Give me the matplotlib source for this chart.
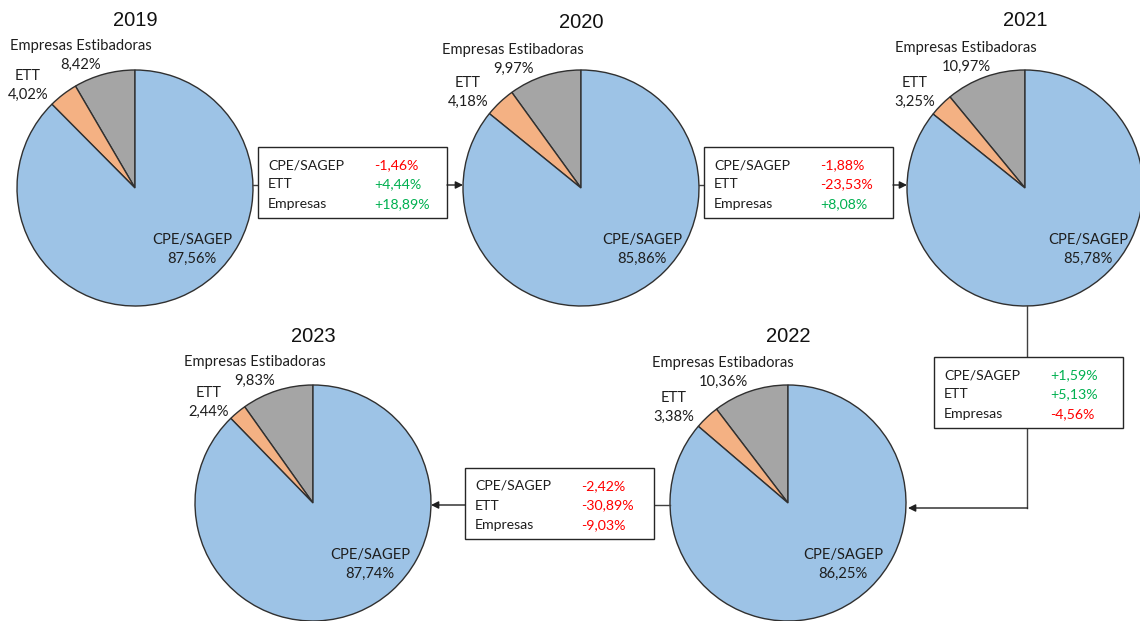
import matplotlib
matplotlib.use("Agg")
import matplotlib.pyplot as plt
from matplotlib.patches import Rectangle

# share of workers per employer type, by year (%)
years = ["2019", "2020", "2021", "2022", "2023"]
cpe_sagep = [87.56, 85.86, 85.78, 86.25, 87.74]
ett = [4.02, 4.18, 3.25, 3.38, 2.44]
empresas = [8.42, 9.97, 10.97, 10.36, 9.83]

# year-on-year variation between consecutive years (%)
steps = ["2019-2020", "2020-2021", "2021-2022", "2022-2023"]
var_cpe = [-1.46, -1.88, 1.59, -2.42]
var_ett = [4.44, -23.53, 5.13, -30.89]
var_emp = [18.89, 8.08, -4.56, -9.03]

row_names = ["CPE/SAGEP", "ETT", "Empresas"]
colors = ["#A5A5A5", "#F4B183", "#9DC3E6"]   # empresas, ett, cpe
TXT = "#1E1E1E"
RED = "#FF0000"
GREEN = "#00B050"
LINE = "#404040"
FONT = ["Lato", "DejaVu Sans"]
FS = 10.6

W, H = 1140, 621
R = 118

# pie centres and label positions (pixels, y downwards)
centres = [(135, 188), (581, 188), (1025, 188), (788, 503), (313, 503)]
emp_lab = [(81, 46), (513, 50), (966, 48), (723, 363), (255, 362)]
ett_lab = [(28, 76), (468, 83), (915, 83), (674, 398), (209, 393)]
cpe_lab = [(192, 240), (642, 240), (1088, 240), (843, 555), (370, 555)]
title_y = [20, 22, 20, 337, 336]

# change boxes: left, top, width, height
boxes = [(258, 147, 189, 71), (704, 147, 189, 71),
         (934, 357, 189, 71), (465, 468, 189, 71)]


def pct(v):
    return f"{v:.2f}%".replace(".", ",")


def signed(v):
    s = f"{v:+.2f}%".replace(".", ",")
    return s


def label(x, y, top, bottom):
    ax.text(x, y, top, ha="center", va="center", fontsize=FS,
            family=FONT, color=TXT)
    ax.text(x, y + 19, bottom, ha="center", va="center", fontsize=FS,
            family=FONT, color=TXT)


fig = plt.figure(figsize=(W / 100, H / 100), dpi=100)
ax = fig.add_axes([0, 0, 1, 1])

for i, yr in enumerate(years):
    cx, cy = centres[i]
    # y axis is inverted later, so clockwise + start at -90 reads
    # as counter-clockwise from 12 o'clock on screen
    ax.pie([empresas[i], ett[i], cpe_sagep[i]], colors=colors,
           center=(cx, cy), radius=R, startangle=-90, counterclock=False,
           wedgeprops=dict(edgecolor="#303030", linewidth=1.0))
    ax.text(cx, title_y[i], yr, ha="center", va="center", fontsize=14.5,
            family=["Liberation Sans", "DejaVu Sans"], color="#111111")
    label(*emp_lab[i], "Empresas Estibadoras", pct(empresas[i]))
    label(*ett_lab[i], "ETT", pct(ett[i]))
    label(*cpe_lab[i], "CPE/SAGEP", pct(cpe_sagep[i]))

for j, step in enumerate(steps):
    bx, by, bw, bh = boxes[j]
    ax.add_patch(Rectangle((bx, by), bw, bh, facecolor="white",
                           edgecolor="#262626", linewidth=1.0, zorder=3))
    vals = [var_cpe[j], var_ett[j], var_emp[j]]
    for k, name in enumerate(row_names):
        yy = by + 18 + 19.5 * k
        ax.text(bx + 10, yy, name, ha="left", va="center", fontsize=10.2,
                family=FONT, color=TXT, zorder=4)
        ax.text(bx + 116, yy, signed(vals[k]), ha="left", va="center",
                fontsize=10.2, family=FONT, zorder=4,
                color=GREEN if vals[k] > 0 else RED)

arrow = dict(arrowstyle="-|>", color="#202020", lw=1.0,
             shrinkA=0, shrinkB=0, mutation_scale=11)

# 2019 -> box -> 2020
ax.plot([centres[0][0] + R, 258], [185, 185], color=LINE, lw=1.0)
ax.annotate("", xy=(centres[1][0] - R, 185), xytext=(447, 185),
            arrowprops=arrow)
# 2020 -> box -> 2021
ax.plot([centres[1][0] + R, 704], [185, 185], color=LINE, lw=1.0)
ax.annotate("", xy=(centres[2][0] - R, 185), xytext=(893, 185),
            arrowprops=arrow)
# 2021 -> box -> 2022
ax.plot([1027, 1027], [centres[2][1] + R, 357], color=LINE, lw=1.0)
ax.plot([1027, 1027], [428, 508], color=LINE, lw=1.0)
ax.annotate("", xy=(centres[3][0] + R + 2, 508), xytext=(1027.5, 508),
            arrowprops=arrow)
# 2022 -> box -> 2023
ax.plot([centres[3][0] - R, 654], [505, 505], color=LINE, lw=1.0)
ax.annotate("", xy=(centres[4][0] + R, 505), xytext=(465, 505),
            arrowprops=arrow)

ax.set_xlim(0, W)
ax.set_ylim(H, 0)
ax.set_aspect("equal")
ax.axis("off")

fig.savefig("out.png", dpi=100, facecolor="white")
